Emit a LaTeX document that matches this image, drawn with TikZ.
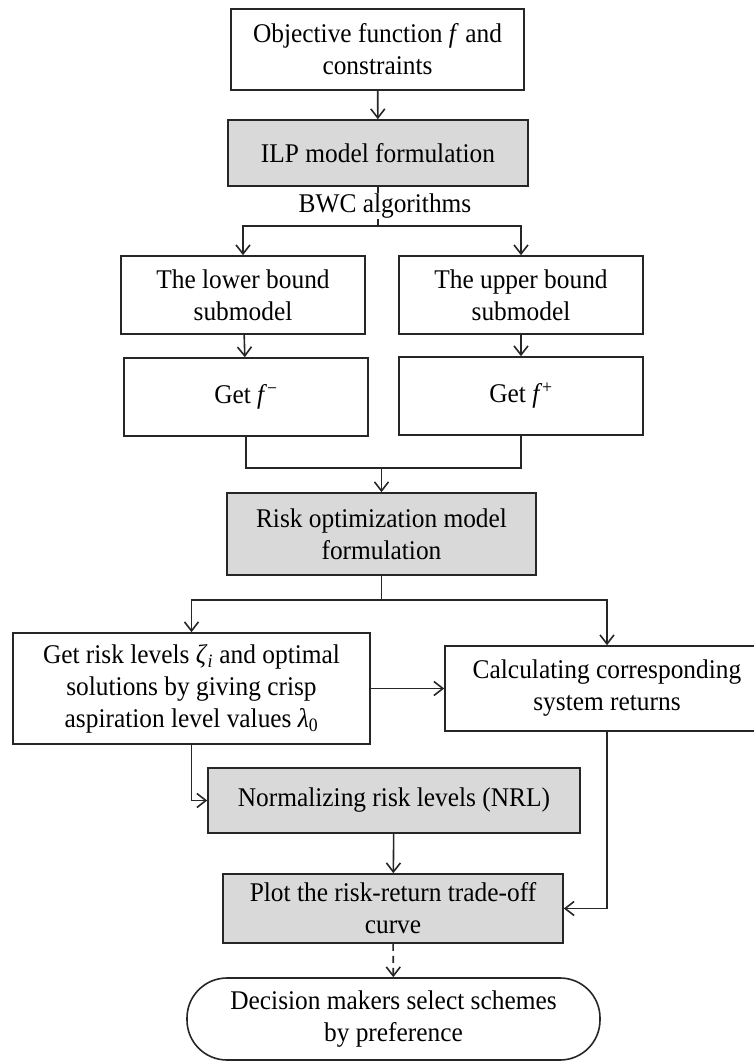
\documentclass[tikz,border=0pt]{standalone}
\usepackage{fontspec}
\setmainfont{Liberation Serif}[FakeStretch=0.94]
\usetikzlibrary{arrows.meta}
\definecolor{boxgray}{HTML}{D9D9D9}
\definecolor{lineink}{HTML}{262626}
\tikzset{
  flowbox/.style={draw=lineink, line width=1.6pt, fill=white, align=center,
    inner sep=0pt, font=\fontsize{27}{32}\selectfont},
  graybox/.style={flowbox, fill=boxgray},
  boxdim/.style 2 args={minimum width=#1, minimum height=#2},
  flowline/.style={draw=lineink, line width=1.6pt},
  flowarrow/.style={flowline, -{Straight Barb[length=9pt,width=14pt]}},
}

\begin{document}
\begin{tikzpicture}[x=1pt, y=-1pt]
  \useasboundingbox (0,0) rectangle (753,1061);
  % boxes
  \node[flowbox, boxdim={293pt}{81pt}] (objective) at (377.5,49.5) {Objective function \textit{f} and\\constraints};
  \node[graybox, boxdim={300pt}{66pt}] (ilp) at (378,153) {ILP model formulation};
  \node[flowbox, boxdim={244pt}{78pt}] (lower) at (243,295) {The lower bound\\submodel};
  \node[flowbox, boxdim={244pt}{78pt}] (upper) at (521,295) {The upper bound\\submodel};
  \node[flowbox, boxdim={244pt}{78pt}] (getlow) at (246,397) {Get \textit{f}\textsuperscript{−}};
  \node[flowbox, boxdim={244pt}{78pt}] (getup) at (521,396) {Get \textit{f}\textsuperscript{+}};
  \node[graybox, boxdim={309pt}{82pt}] (risk) at (381.5,534) {Risk optimization model\\formulation};
  \node[flowbox, boxdim={357pt}{111pt}] (getrisk) at (191.5,688.5) {Get risk levels \textit{ζ}\textsubscript{\textit{i}} and optimal\\solutions by giving crisp\\aspiration level values \textit{λ}\textsubscript{0}};
  \node[flowbox, boxdim={324pt}{85pt}] (calc) at (607,688.5) {Calculating corresponding\\system returns};
  \node[graybox, boxdim={372pt}{65pt}] (nrl) at (394,800.5) {Normalizing risk levels (NRL)};
  \node[graybox, boxdim={340pt}{69pt}] (plot) at (393,908.5) {Plot the risk-return trade-off\\curve};
  \node[flowbox, boxdim={413pt}{82pt}, rounded corners=40pt] (decision) at (393.5,1019) {Decision makers select schemes\\by preference};
  % branch points
  \coordinate (bwcsplit) at (378,226);
  \coordinate (subjoin) at (381.5,468);
  \coordinate (risksplit) at (381.5,600);
  % connectors
  \draw[flowarrow] (objective) -- (ilp);
  \draw[flowline] (ilp.south) -- (bwcsplit);
  \node[font=\fontsize{27}{32}\selectfont, fill=white, inner sep=1pt] (bwc) at (385,206) {BWC algorithms};
  \draw[flowarrow] (bwcsplit) -| (lower.north);
  \draw[flowarrow] (bwcsplit) -| (upper.north);
  \draw[flowarrow] (lower) -- (getlow);
  \draw[flowarrow] (upper) -- (getup);
  \draw[flowline] (getlow.south) |- (subjoin) -| (getup.south);
  \draw[flowarrow] (subjoin) -- (risk.north);
  \draw[flowline] (risk.south) -- (risksplit);
  \draw[flowarrow] (risksplit) -| (getrisk.north);
  \draw[flowarrow] (risksplit) -| (calc.north);
  \draw[flowarrow] (getrisk) -- (calc);
  \draw[flowarrow] (getrisk.south) |- (nrl.west);
  \draw[flowarrow] (nrl) -- (plot);
  \draw[flowarrow] (calc.south) |- (plot.east);
  \draw[flowarrow, dash pattern=on 7pt off 5pt] (plot) -- (decision);
\end{tikzpicture}
\end{document}
